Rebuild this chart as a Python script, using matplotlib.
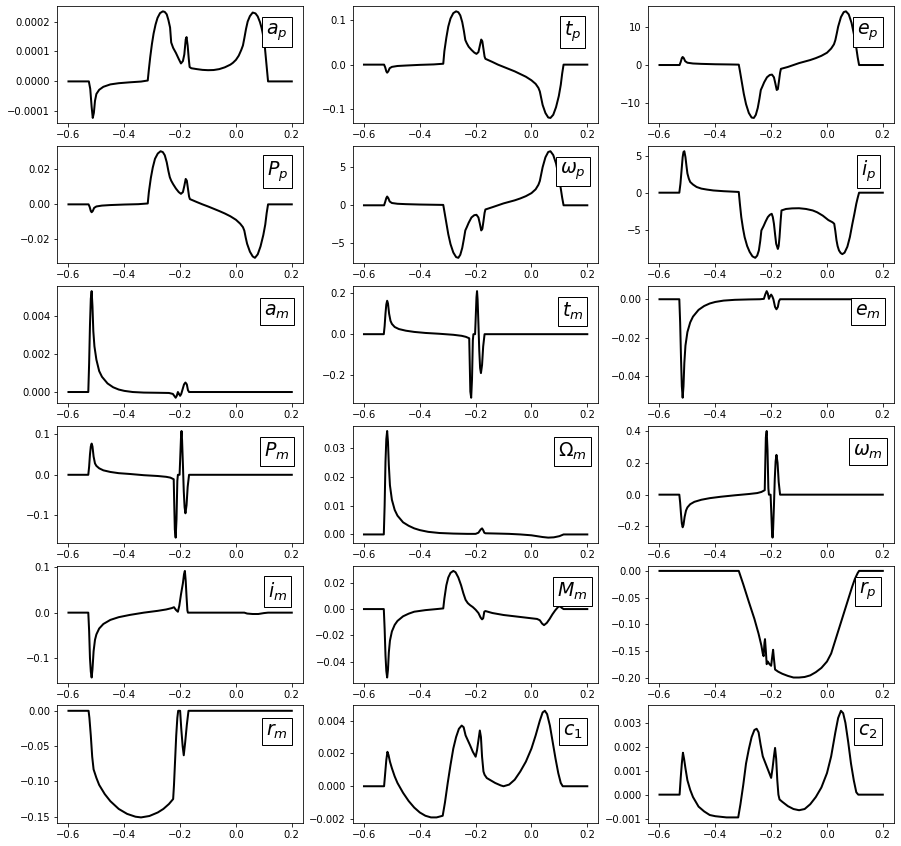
import matplotlib
matplotlib.use("Agg")
import matplotlib.pyplot as plt

# values, one x list and one y list per panel

ap_x = [-0.6, -0.527, -0.522, -0.517, -0.513, -0.509, -0.505, -0.5, -0.49, -0.475, -0.45, -0.42, -0.38, -0.34,
        -0.316, -0.312, -0.307, -0.301, -0.295, -0.288, -0.281, -0.272, -0.262, -0.255, -0.248, -0.242, -0.236,
        -0.232, -0.225, -0.215, -0.205, -0.197, -0.19, -0.185, -0.18, -0.177, -0.173, -0.169, -0.166, -0.16,
        -0.14, -0.12, -0.1, -0.08, -0.06, -0.04, -0.02, -0.011, 0.0, 0.01, 0.019, 0.025, 0.03, 0.036, 0.042,
        0.05, 0.06, 0.07, 0.078, 0.086, 0.092, 0.096, 0.103, 0.108, 0.115, 0.2]
ap_y = [0, 0, -0.25e-4, -0.85e-4, -1.22e-4, -1.05e-4, -0.65e-4, -0.42e-4, -0.28e-4, -0.18e-4, -0.1e-4,
        -0.06e-4, -0.03e-4, -0.005e-4, 0.03e-4, 0.4e-4, 0.82e-4, 1.25e-4, 1.6e-4, 1.9e-4, 2.12e-4, 2.28e-4,
        2.34e-4, 2.32e-4, 2.24e-4, 2.05e-4, 1.8e-4, 1.3e-4, 1.12e-4, 0.95e-4, 0.75e-4, 0.6e-4, 0.68e-4, 0.9e-4,
        1.4e-4, 1.48e-4, 1.2e-4, 0.75e-4, 0.48e-4, 0.44e-4, 0.41e-4, 0.385e-4, 0.375e-4, 0.38e-4, 0.41e-4,
        0.47e-4, 0.56e-4, 0.62e-4, 0.72e-4, 0.86e-4, 1.05e-4, 1.2e-4, 1.44e-4, 1.75e-4, 2.0e-4, 2.18e-4, 2.3e-4,
        2.27e-4, 2.17e-4, 1.98e-4, 1.78e-4, 1.6e-4, 1.2e-4, 0.7e-4, 0.0, 0.0]

tp_x = [-0.6, -0.528, -0.524, -0.52, -0.517, -0.513, -0.508, -0.5, -0.48, -0.45, -0.4, -0.35, -0.316, -0.312,
        -0.305, -0.298, -0.29, -0.28, -0.27, -0.262, -0.255, -0.248, -0.242, -0.237, -0.232, -0.225, -0.215,
        -0.205, -0.197, -0.19, -0.185, -0.18, -0.176, -0.172, -0.168, -0.165, -0.14, -0.12, -0.1, -0.08, -0.06,
        -0.04, -0.02, 0.0, 0.015, 0.025, 0.03, 0.035, 0.04, 0.05, 0.06, 0.068, 0.078, 0.088, 0.098, 0.105, 0.11,
        0.115, 0.2]
tp_y = [0, 0, -0.006, -0.015, -0.018, -0.015, -0.008, -0.005, -0.003, -0.002, -0.0005, 0.0005, 0.002, 0.03,
        0.06, 0.085, 0.103, 0.115, 0.119, 0.117, 0.11, 0.095, 0.075, 0.055, 0.048, 0.04, 0.033, 0.027, 0.024,
        0.028, 0.042, 0.056, 0.052, 0.035, 0.018, 0.013, 0.006, 0.0, -0.005, -0.01, -0.015, -0.021, -0.027,
        -0.035, -0.043, -0.052, -0.06, -0.075, -0.09, -0.108, -0.118, -0.119, -0.112, -0.095, -0.07, -0.045,
        -0.02, 0.0, 0.0]

ep_x = tp_x
ep_y = [0, 0, 0.8, 1.8, 2.1, 1.8, 1.0, 0.6, 0.4, 0.3, 0.2, 0.15, 0.1, -1.5, -4.5, -7.5, -10.2, -12.5, -13.7,
        -13.8, -13.0, -11.2, -8.8, -6.5, -5.7, -4.5, -3.2, -2.6, -2.5, -3.2, -4.8, -6.5, -6.3, -4.2, -2.0, -1.0,
        -0.5, 0.0, 0.5, 0.9, 1.3, 1.8, 2.4, 3.2, 4.3, 5.4, 6.5, 8.2, 10.0, 12.5, 13.8, 14.0, 13.2, 11.0, 7.5, 4.5,
        2.0, 0, 0]

Pp_x = tp_x
Pp_y = [0, 0, -0.0015, -0.0038, -0.0045, -0.0038, -0.002, -0.0012, -0.0007, -0.0004, -0.0001, 0.0001, 0.0005,
        0.007, 0.015, 0.021, 0.026, 0.029, 0.0303, 0.0298, 0.028, 0.024, 0.019, 0.0155, 0.0135, 0.0115, 0.009,
        0.007, 0.006, 0.007, 0.0105, 0.0145, 0.0135, 0.009, 0.0045, 0.003, 0.0013, 0.0, -0.0012, -0.0025,
        -0.0038, -0.0052, -0.0068, -0.0088, -0.011, -0.013, -0.015, -0.019, -0.0225, -0.027, -0.0297, -0.0305,
        -0.0285, -0.024, -0.0175, -0.0115, -0.005, 0.0, 0.0]

wp_x = tp_x
wp_y = [0, 0, 0.45, 0.95, 1.15, 0.95, 0.5, 0.3, 0.2, 0.15, 0.1, 0.07, 0.05, -0.8, -2.3, -3.8, -5.1, -6.2, -6.8,
        -6.9, -6.5, -5.6, -4.4, -3.3, -2.9, -2.3, -1.6, -1.3, -1.25, -1.6, -2.4, -3.3, -3.1, -2.1, -1.0, -0.55,
        -0.25, 0.0, 0.25, 0.45, 0.65, 0.9, 1.2, 1.6, 2.1, 2.7, 3.2, 4.1, 5.0, 6.3, 7.0, 7.1, 6.6, 5.5, 3.7, 2.2,
        1.0, 0, 0]

ip_x = [-0.6, -0.529, -0.525, -0.521, -0.517, -0.514, -0.511, -0.507, -0.503, -0.5, -0.495, -0.49, -0.48,
        -0.467, -0.45, -0.43, -0.407, -0.37, -0.316, -0.312, -0.307, -0.301, -0.295, -0.286, -0.277, -0.267,
        -0.257, -0.25, -0.244, -0.239, -0.235, -0.227, -0.22, -0.212, -0.205, -0.198, -0.194, -0.19, -0.186,
        -0.182, -0.176, -0.173, -0.17, -0.166, -0.163, -0.147, -0.125, -0.1, -0.075, -0.051, -0.035, -0.015,
        0.005, 0.02, 0.026, 0.03, 0.034, 0.038, 0.043, 0.049, 0.055, 0.063, 0.073, 0.082, 0.091, 0.098, 0.105,
        0.11, 0.115, 0.2]
ip_y = [0, 0, 1.2, 3.0, 4.8, 5.5, 5.6, 4.8, 3.5, 2.6, 1.9, 1.45, 1.1, 0.77, 0.55, 0.42, 0.3, 0.2, 0.1, -1.5,
        -3.3, -4.8, -6.0, -7.2, -8.0, -8.6, -8.8, -8.5, -7.8, -6.5, -5.1, -4.5, -3.9, -3.3, -3.0, -2.85, -3.3,
        -4.2, -5.6, -6.9, -7.6, -7.2, -6.0, -3.8, -2.4, -2.2, -2.12, -2.1, -2.2, -2.4, -2.65, -3.1, -3.7, -4.0,
        -4.2, -5.2, -6.4, -7.2, -7.8, -8.15, -8.3, -8.1, -7.3, -6.0, -4.2, -2.9, -1.5, -0.7, 0, 0]

# t_m, P_m and omega_m share the same event times
m_x = [-0.6, -0.529, -0.526, -0.523, -0.52, -0.517, -0.514, -0.51, -0.505, -0.5, -0.49, -0.475, -0.45, -0.42,
       -0.38, -0.33, -0.28, -0.25, -0.235, -0.223, -0.221, -0.219, -0.216, -0.213, -0.21, -0.208, -0.202,
       -0.2, -0.197, -0.195, -0.193, -0.19, -0.187, -0.184, -0.181, -0.177, -0.173, -0.168, 0.2]
tm_y = [0, 0, 0.04, 0.1, 0.145, 0.163, 0.15, 0.1, 0.065, 0.05, 0.035, 0.025, 0.017, 0.011, 0.006, 0.002,
        -0.003, -0.008, -0.013, -0.02, -0.15, -0.28, -0.31, -0.22, -0.03, 0.0, 0.0, 0.07, 0.18, 0.21, 0.17,
        0.05, -0.08, -0.165, -0.19, -0.15, -0.06, 0.0, 0.0]
Pm_y = [0, 0, 0.02, 0.05, 0.07, 0.077, 0.07, 0.045, 0.028, 0.022, 0.016, 0.011, 0.007, 0.004, 0.002, -0.001,
        -0.003, -0.005, -0.007, -0.011, -0.075, -0.135, -0.155, -0.11, -0.015, 0.0, 0.0, 0.035, 0.09, 0.108,
        0.085, 0.025, -0.04, -0.08, -0.095, -0.075, -0.03, 0.0, 0.0]
wm_y = [0, 0, -0.05, -0.12, -0.18, -0.205, -0.19, -0.14, -0.1, -0.08, -0.06, -0.045, -0.032, -0.022, -0.013,
        -0.004, 0.004, 0.01, 0.017, 0.028, 0.2, 0.36, 0.4, 0.28, 0.04, 0.0, 0.0, -0.09, -0.23, -0.27, -0.22,
        -0.07, 0.1, 0.21, 0.25, 0.2, 0.08, 0.0, 0.0]

am_x = [-0.6, -0.529, -0.526, -0.523, -0.52, -0.517, -0.514, -0.511, -0.507, -0.5, -0.49, -0.48, -0.46, -0.44,
        -0.42, -0.4, -0.37, -0.33, -0.28, -0.24, -0.226, -0.221, -0.216, -0.212, -0.208, -0.204, -0.2, -0.196,
        -0.192, -0.186, -0.181, -0.176, -0.172, -0.168, 0.2]
am_y = [0, 0, 0.0015, 0.0035, 0.0049, 0.0053, 0.0045, 0.0032, 0.0024, 0.0017, 0.0011, 0.0008, 0.00045,
        0.00025, 0.00013, 0.00006, 0.0, -0.00003, -0.00004, -0.00005, -0.0001, -0.0002, -0.0003, -0.0002, 0.0,
        -0.0001, -0.0002, -0.0001, 0.0001, 0.0004, 0.0005, 0.0004, 0.0001, 0.0, 0.0]

em_x = am_x
em_y = [0, 0, -0.012, -0.03, -0.045, -0.051, -0.045, -0.033, -0.024, -0.017, -0.012, -0.009, -0.0055, -0.0035,
        -0.0022, -0.0014, -0.0007, -0.0003, -0.0001, 0.0, 0.0002, 0.0025, 0.0042, 0.003, 0.0002, 0.0015, 0.0024,
        0.0015, 0.0, -0.004, -0.0052, -0.004, -0.001, 0.0, 0.0]

Om_x = [-0.6, -0.529, -0.526, -0.523, -0.52, -0.517, -0.514, -0.511, -0.507, -0.5, -0.49, -0.48, -0.46, -0.44,
        -0.42, -0.4, -0.37, -0.33, -0.28, -0.23, -0.2, -0.19, -0.182, -0.177, -0.173, -0.169, -0.165, -0.12,
        -0.08, -0.04, 0.0, 0.02, 0.04, 0.06, 0.08, 0.1, 0.115, 0.2]
Om_y = [0, 0, 0.01, 0.025, 0.033, 0.0358, 0.032, 0.024, 0.017, 0.012, 0.0085, 0.0065, 0.0042, 0.003, 0.0021,
        0.0015, 0.0009, 0.0005, 0.0003, 0.0002, 0.0002, 0.0006, 0.0017, 0.0021, 0.0015, 0.0006, 0.0004, 0.0003,
        0.0002, 0.0, -0.0003, -0.0006, -0.0009, -0.0011, -0.001, -0.0006, 0.0, 0.0]

im_x = [-0.6, -0.529, -0.526, -0.523, -0.52, -0.517, -0.514, -0.51, -0.505, -0.5, -0.49, -0.475, -0.45, -0.42,
        -0.38, -0.33, -0.28, -0.25, -0.23, -0.222, -0.215, -0.208, -0.203, -0.197, -0.19, -0.186, -0.183, -0.18,
        -0.177, -0.174, -0.172, 0.03, 0.04, 0.06, 0.08, 0.1, 0.115, 0.2]
im_y = [0, 0, -0.04, -0.1, -0.13, -0.143, -0.125, -0.085, -0.06, -0.048, -0.035, -0.025, -0.016, -0.01, -0.005,
        0.0, 0.004, 0.007, 0.01, 0.012, 0.006, 0.002, 0.015, 0.04, 0.065, 0.085, 0.092, 0.07, 0.035, 0.005, 0.0,
        0.0, -0.002, -0.003, -0.003, -0.001, 0.0, 0.0]

Mm_x = [-0.6, -0.529, -0.526, -0.523, -0.52, -0.517, -0.514, -0.511, -0.507, -0.5, -0.49, -0.48, -0.46, -0.44,
        -0.42, -0.38, -0.34, -0.316, -0.312, -0.305, -0.298, -0.29, -0.28, -0.272, -0.262, -0.252, -0.244,
        -0.236, -0.228, -0.22, -0.21, -0.2, -0.19, -0.182, -0.177, -0.173, -0.169, -0.165, -0.14, -0.1, -0.06,
        -0.02, 0.0, 0.02, 0.03, 0.038, 0.045, 0.055, 0.065, 0.075, 0.085, 0.095, 0.102, 0.108, 0.115, 0.2]
Mm_y = [0, 0, -0.015, -0.035, -0.047, -0.052, -0.046, -0.033, -0.024, -0.017, -0.012, -0.009, -0.0055, -0.0035,
        -0.002, -0.0008, 0.0, 0.0005, 0.008, 0.018, 0.024, 0.0275, 0.029, 0.028, 0.024, 0.018, 0.012, 0.007,
        0.0045, 0.003, 0.0015, -0.0005, -0.003, -0.0065, -0.0078, -0.007, -0.002, -0.0015, -0.003, -0.0045,
        -0.0055, -0.0065, -0.007, -0.0075, -0.0085, -0.011, -0.0122, -0.0105, -0.0075, -0.004, -0.001, 0.0015,
        0.0022, 0.001, 0.0, 0.0]

rp_x = [-0.6, -0.316, -0.3, -0.28, -0.26, -0.245, -0.235, -0.23, -0.227, -0.224, -0.222, -0.219, -0.216,
        -0.212, -0.206, -0.2, -0.196, -0.193, -0.19, -0.186, -0.175, -0.16, -0.14, -0.12, -0.1, -0.08, -0.06,
        -0.04, -0.02, 0.0, 0.015, 0.03, 0.045, 0.06, 0.075, 0.09, 0.1, 0.11, 0.115, 0.2]
rp_y = [0, 0, -0.025, -0.058, -0.09, -0.118, -0.14, -0.155, -0.16, -0.135, -0.128, -0.15, -0.175, -0.17,
        -0.175, -0.178, -0.16, -0.148, -0.165, -0.185, -0.189, -0.193, -0.197, -0.2, -0.2, -0.199, -0.196,
        -0.19, -0.182, -0.17, -0.155, -0.13, -0.105, -0.08, -0.055, -0.03, -0.015, -0.004, 0.0, 0.0]

rm_x = [-0.6, -0.528, -0.525, -0.52, -0.515, -0.51, -0.5, -0.49, -0.47, -0.45, -0.42, -0.39, -0.36, -0.34,
        -0.31, -0.28, -0.26, -0.24, -0.225, -0.222, -0.218, -0.214, -0.21, -0.207, -0.2, -0.196, -0.191, -0.187,
        -0.182, -0.176, -0.17, 0.2]
rm_y = [0, 0, -0.01, -0.035, -0.065, -0.083, -0.095, -0.105, -0.118, -0.128, -0.139, -0.146, -0.15, -0.151,
        -0.149, -0.144, -0.139, -0.132, -0.125, -0.105, -0.07, -0.035, -0.01, 0.0, 0.0, -0.025, -0.05, -0.063,
        -0.045, -0.02, 0.0, 0.0]

c1_x = [-0.6, -0.528, -0.524, -0.52, -0.516, -0.512, -0.507, -0.5, -0.49, -0.48, -0.46, -0.44, -0.42, -0.4,
        -0.38, -0.36, -0.34, -0.318, -0.31, -0.3, -0.29, -0.28, -0.27, -0.26, -0.25, -0.243, -0.236, -0.228,
        -0.22, -0.21, -0.2, -0.195, -0.19, -0.185, -0.181, -0.177, -0.172, -0.168, -0.16, -0.15, -0.13, -0.11,
        -0.1, -0.08, -0.06, -0.04, -0.02, 0.0, 0.015, 0.03, 0.04, 0.048, 0.056, 0.066, 0.076, 0.086, 0.096,
        0.105, 0.112, 0.2]
c1_y = [0, 0, 0.0008, 0.0016, 0.0021, 0.0019, 0.0015, 0.0011, 0.0006, 0.0002, -0.0004, -0.0009, -0.0013,
        -0.0016, -0.0018, -0.0019, -0.0019, -0.0018, -0.001, 0.0002, 0.0013, 0.0023, 0.003, 0.0035, 0.0037,
        0.0036, 0.0031, 0.0028, 0.0025, 0.0021, 0.0018, 0.0022, 0.0028, 0.0034, 0.003, 0.0018, 0.0009, 0.0007,
        0.0005, 0.0004, 0.0002, 0.00005, 0.0, 0.0001, 0.0004, 0.0009, 0.0015, 0.0023, 0.0031, 0.004, 0.0045,
        0.0046, 0.0044, 0.0037, 0.0027, 0.0017, 0.0008, 0.0002, 0.0, 0.0]

c2_x = [-0.6, -0.528, -0.524, -0.52, -0.516, -0.512, -0.507, -0.5, -0.49, -0.48, -0.46, -0.44, -0.42, -0.4,
        -0.36, -0.318, -0.31, -0.3, -0.29, -0.28, -0.27, -0.26, -0.252, -0.245, -0.238, -0.23, -0.22, -0.21,
        -0.2, -0.195, -0.19, -0.186, -0.182, -0.178, -0.174, -0.17, -0.16, -0.14, -0.12, -0.1, -0.08, -0.06,
        -0.04, -0.02, 0.0, 0.015, 0.03, 0.04, 0.05, 0.058, 0.066, 0.076, 0.086, 0.096, 0.105, 0.112, 0.2]
c2_y = [0, 0, 0.0007, 0.0013, 0.00175, 0.0015, 0.0011, 0.0006, 0.0002, -0.0001, -0.0005, -0.0007, -0.00085,
        -0.0009, -0.00095, -0.00095, -0.0004, 0.0004, 0.0013, 0.0019, 0.0024, 0.0027, 0.00275, 0.0026, 0.0021,
        0.0016, 0.0013, 0.001, 0.0007, 0.0011, 0.0016, 0.00195, 0.0015, 0.0006, 0.0, -0.0002, -0.0003,
        -0.00048, -0.0006, -0.00065, -0.0006, -0.0004, -0.0001, 0.0003, 0.0009, 0.0016, 0.0026, 0.0032,
        0.0035, 0.0034, 0.003, 0.0022, 0.0013, 0.0006, 0.0001, 0.0, 0.0]

labels = [r"$a_p$", r"$t_p$", r"$e_p$",
          r"$P_p$", r"$\omega_p$", r"$i_p$",
          r"$a_m$", r"$t_m$", r"$e_m$",
          r"$P_m$", r"$\Omega_m$", r"$\omega_m$",
          r"$i_m$", r"$M_m$", r"$r_p$",
          r"$r_m$", r"$c_1$", r"$c_2$"]

series = [(ap_x, ap_y), (tp_x, tp_y), (ep_x, ep_y),
          (Pp_x, Pp_y), (wp_x, wp_y), (ip_x, ip_y),
          (am_x, am_y), (m_x, tm_y), (em_x, em_y),
          (m_x, Pm_y), (Om_x, Om_y), (m_x, wm_y),
          (im_x, im_y), (Mm_x, Mm_y), (rp_x, rp_y),
          (rm_x, rm_y), (c1_x, c1_y), (c2_x, c2_y)]

fig, axes = plt.subplots(6, 3, figsize=(901 / 72, 846 / 72), dpi=72)
fig.subplots_adjust(left=0.0636, right=0.9922, top=0.9929, bottom=0.0275, wspace=0.203, hspace=0.193)

for ax, (x, y), lab in zip(axes.flat, series, labels):
    ax.plot(x, y, color="black", linewidth=2)
    ax.set_xticks([-0.6, -0.4, -0.2, 0.0, 0.2])
    ax.text(0.895, 0.78, lab, transform=ax.transAxes, fontsize=19, ha="center", va="center",
            bbox=dict(facecolor="white", edgecolor="black"))

fig.savefig("out.png", dpi=72, facecolor="white")
